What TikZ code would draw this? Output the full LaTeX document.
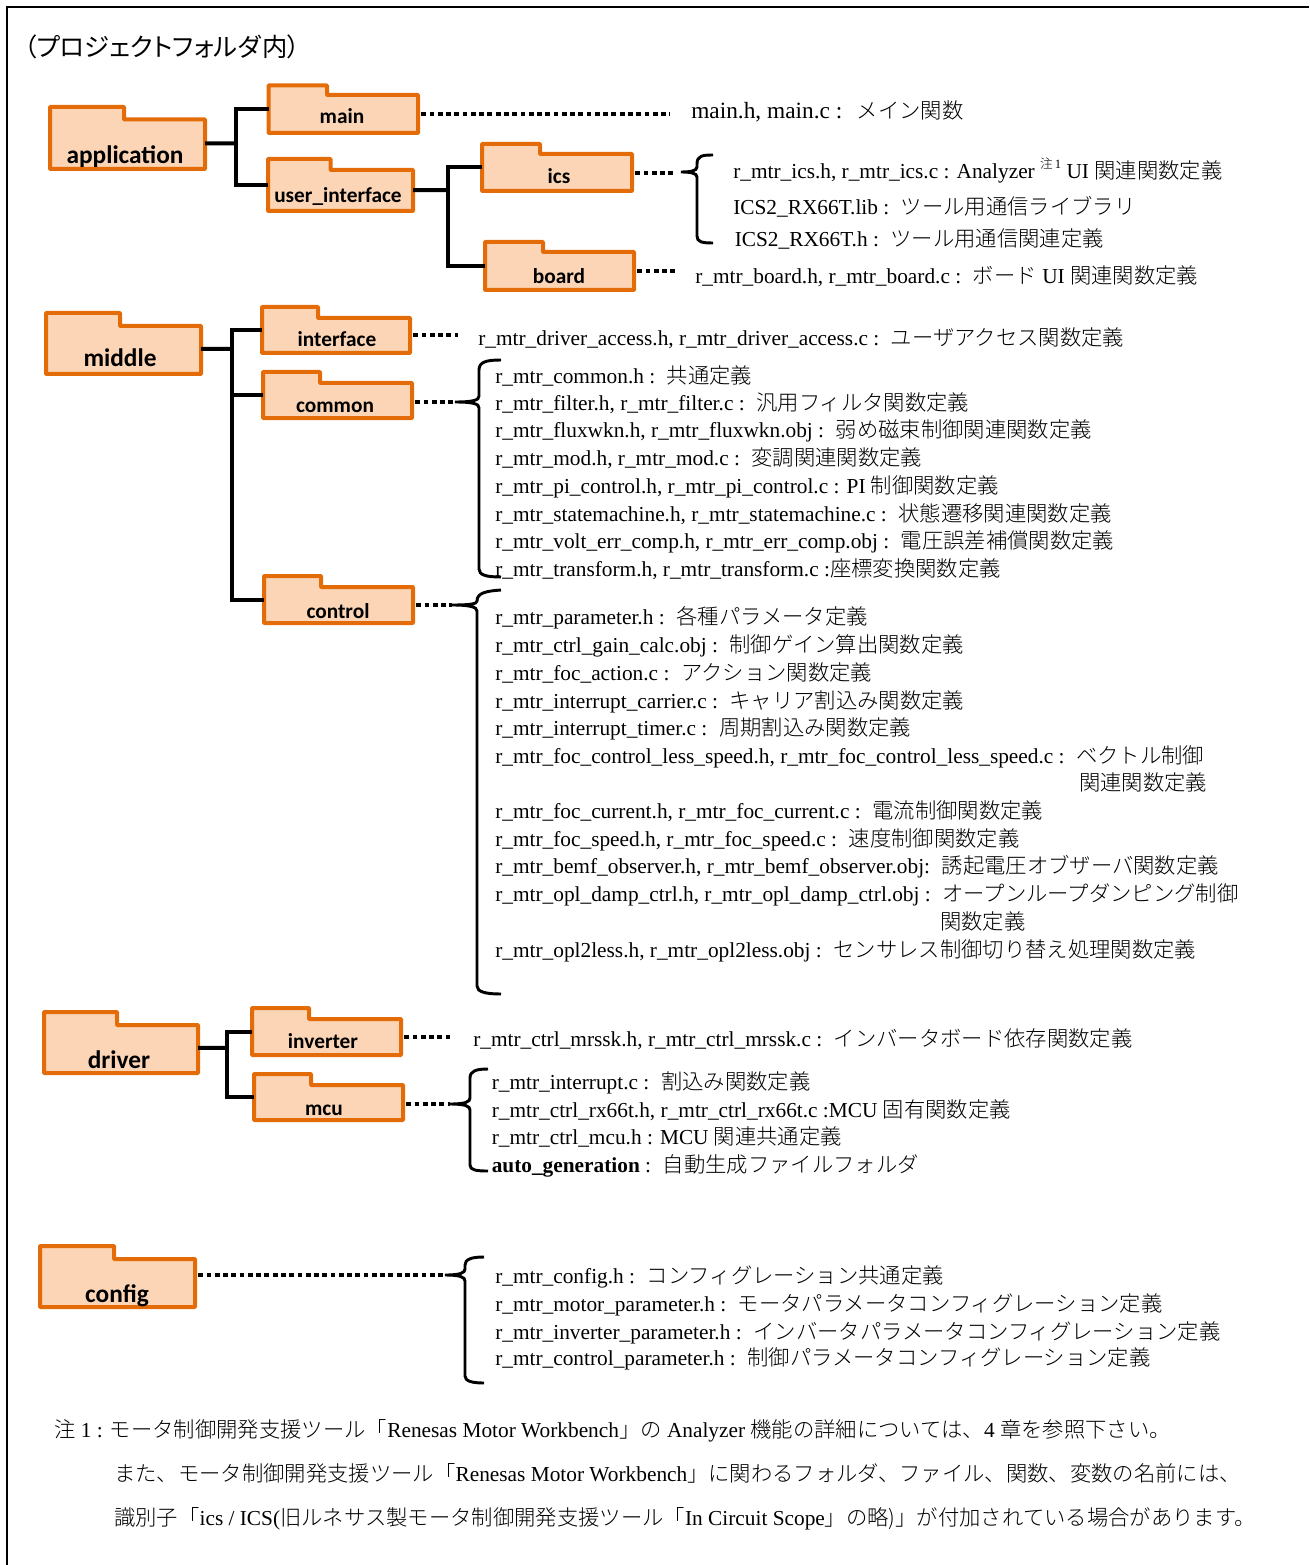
\documentclass[tikz,border=0pt]{standalone}
\usepackage{fontspec}
\setmainfont{Liberation Serif}
\newfontfamily\cjk{Noto Sans CJK JP Light}
\newfontfamily\cjktitle[RawFeature=+palt]{Noto Sans CJK JP}
\newfontfamily\foldersans{Carlito}
\newcommand{\jp}[1]{{\cjk #1}}
\newcommand{\colongap}{\hspace{3.4pt}}
\usetikzlibrary{fit}
\definecolor{folderline}{HTML}{E36C09}
\definecolor{folderfill}{HTML}{FBD5B5}
\tikzset{
	foldershape/.style={draw=folderline,fill=folderfill,line width=3pt,rounded corners=0.5pt},
	folderbody/.style={inner sep=0pt,outer sep=0pt},
	folderlabel/.style={anchor=base,inner sep=0pt,font=\foldersans\bfseries\fontsize{19}{21}\selectfont},
	smallfolderlabel/.style={anchor=base,inner sep=0pt,font=\foldersans\bfseries\fontsize{16}{18}\selectfont},
	tree/.style={line width=3pt},
	dotline/.style={line width=3pt,dash pattern=on 3.6pt off 2.6pt,shorten <=2.5pt},
	bracket/.style={line width=2.2pt},
	filetext/.style={anchor=base west,inner sep=0pt,font=\fontsize{16}{18}\selectfont}
}

\begin{document}
\begin{tikzpicture}[x=0.75pt,y=-0.75pt]
	\useasboundingbox (0,0) rectangle (1309,1565);
	\draw [line width=2pt] (1309,7)--(7,7)--(7,1565);
	\node [anchor=base west,inner sep=0pt,font=\cjktitle\fontsize{19}{21}\selectfont] (title) at (24,57) {（プロジェクトフォルダ\hspace{1.5pt}内）};

	\draw [foldershape] (50,107)--(124,107)--(124,119.5)--(205,119.5)--(205,169)--(50,169)--cycle;
	\node [folderbody,fit={(50,107)(205,169)}] (application) {};
	\node [folderlabel] (applicationlabel) at (125,164) {application};
	\draw [foldershape] (268.5,85.5)--(327,85.5)--(327,95)--(418,95)--(418,133)--(268.5,133)--cycle;
	\node [folderbody,fit={(268.5,85.5)(418,133)}] (main) {};
	\node [smallfolderlabel] (mainlabel) at (342,124) {main};
	\draw [foldershape] (268,159)--(330.5,159)--(330.5,170)--(413,170)--(413,211)--(268,211)--cycle;
	\node [folderbody,fit={(268,159)(413,211)}] (userinterface) {};
	\node [smallfolderlabel] (userinterfacelabel) at (338,203) {user\_interface};
	\draw [foldershape] (482,144)--(540,144)--(540,154)--(632,154)--(632,191)--(482,191)--cycle;
	\node [folderbody,fit={(482,144)(632,191)}] (ics) {};
	\node [smallfolderlabel] (icslabel) at (559,184) {ics};
	\draw [foldershape] (485,242)--(543,242)--(543,252)--(634,252)--(634,290)--(485,290)--cycle;
	\node [folderbody,fit={(485,242)(634,290)}] (board) {};
	\node [smallfolderlabel] (boardlabel) at (559,284) {board};
	\draw [foldershape] (46,313)--(120,313)--(120,326)--(201,326)--(201,374)--(46,374)--cycle;
	\node [folderbody,fit={(46,313)(201,374)}] (middle) {};
	\node [folderlabel] (middlelabel) at (120,367) {middle};
	\draw [foldershape] (262,307)--(318,307)--(318,318)--(410,318)--(410,353)--(262,353)--cycle;
	\node [folderbody,fit={(262,307)(410,353)}] (interface) {};
	\node [smallfolderlabel] (interfacelabel) at (337,347) {interface};
	\draw [foldershape] (263,372)--(320,372)--(320,383)--(412,383)--(412,418)--(263,418)--cycle;
	\node [folderbody,fit={(263,372)(412,418)}] (common) {};
	\node [smallfolderlabel] (commonlabel) at (335,412) {common};
	\draw [foldershape] (264,576)--(321,576)--(321,587)--(413,587)--(413,623)--(264,623)--cycle;
	\node [folderbody,fit={(264,576)(413,623)}] (control) {};
	\node [smallfolderlabel] (controllabel) at (338,618) {control};
	\draw [foldershape] (44,1012)--(117,1012)--(117,1025)--(198,1025)--(198,1073)--(44,1073)--cycle;
	\node [folderbody,fit={(44,1012)(198,1073)}] (driver) {};
	\node [folderlabel] (driverlabel) at (119,1068) {driver};
	\draw [foldershape] (252,1008)--(309,1008)--(309,1019)--(401,1019)--(401,1055)--(252,1055)--cycle;
	\node [folderbody,fit={(252,1008)(401,1055)}] (inverter) {};
	\node [smallfolderlabel] (inverterlabel) at (323,1048) {inverter};
	\draw [foldershape] (254,1074)--(311,1074)--(311,1085)--(403,1085)--(403,1120)--(254,1120)--cycle;
	\node [folderbody,fit={(254,1074)(403,1120)}] (mcu) {};
	\node [smallfolderlabel] (mculabel) at (324,1115) {mcu};
	\draw [foldershape] (40,1246)--(114,1246)--(114,1259)--(195,1259)--(195,1307)--(40,1307)--cycle;
	\node [folderbody,fit={(40,1246)(195,1307)}] (config) {};
	\node [folderlabel] (configlabel) at (117,1302) {config};

	\coordinate (applicationbus) at (236,143.4);
	\draw [tree] (application.-4)--(applicationbus);
	\draw [tree] (main.west)-|(applicationbus);
	\draw [tree] (userinterface.west)-|(applicationbus);
	\coordinate (userinterfacebus) at (448,190.1);
	\draw [tree] (userinterface.-4)--(userinterfacebus);
	\draw [tree] (ics.west)-|(userinterfacebus);
	\draw [tree] (board.west)-|(userinterfacebus);
	\coordinate (middlebus) at (232,348.9);
	\draw [tree] (middle.-4)--(middlebus);
	\draw [tree] (interface.west)-|(middlebus);
	\draw [tree] (common.west)-|(middlebus);
	\draw [tree] (control.west)-|(middlebus);
	\coordinate (driverbus) at (227,1047.9);
	\draw [tree] (driver.-4)--(driverbus);
	\draw [tree] (inverter.west)-|(driverbus);
	\draw [tree] (mcu.west)-|(driverbus);

	\coordinate (mainend) at (670,114.5);
	\coordinate (icstip) at (676,172);
	\coordinate (boardend) at (678,271);
	\coordinate (interfaceend) at (458,336);
	\coordinate (commontip) at (455,402);
	\coordinate (controltip) at (452,605);
	\coordinate (inverterend) at (451,1037);
	\coordinate (mcutip) at (450,1104);
	\coordinate (configtip) at (445,1275);
	\draw [dotline] (main.-4)--(main.-4 -| mainend);
	\draw [dotline] (ics.-4)--(ics.-4 -| icstip);
	\draw [dotline] (board.-4)--(board.-4 -| boardend);
	\draw [dotline] (interface.-4)--(interface.-4 -| interfaceend);
	\draw [dotline] (common.-5.5)--(common.-5.5 -| commontip);
	\draw [dotline] (control.-4)--(control.-4 -| controltip);
	\draw [dotline] (inverter.-4)--(inverter.-4 -| inverterend);
	\draw [dotline] (mcu.-5.5)--(mcu.-5.5 -| mcutip);
	\draw [dotline] (config.1)--(config.1 -| configtip);

	\draw [bracket] (713,155) .. controls (702,155) and (697,156) .. (697,164)--(697,167) .. controls (697,171) and (690,172) .. (681,172) .. controls (690,172) and (697,173) .. (697,177)--(697,236) .. controls (697,242) and (702,243) .. (713,243);
	\draw [bracket] (501,360) .. controls (486,360) and (479,362) .. (479,370)--(479,396) .. controls (479,400) and (474,402) .. (455,402) .. controls (474,402) and (479,404) .. (479,408)--(479,569) .. controls (479,575) and (486,577) .. (501,577);
	\draw [bracket] (501,590) .. controls (486,591) and (477,593) .. (477,601)--(477,601) .. controls (477,604) and (470,605) .. (452,605) .. controls (470,605) and (477,607) .. (477,611)--(477,986) .. controls (477,992) and (486,994) .. (501,994);
	\draw [bracket] (488,1069) .. controls (476,1069) and (470,1071) .. (470,1078)--(470,1098) .. controls (470,1102) and (465,1104) .. (450,1104) .. controls (465,1104) and (470,1106) .. (470,1110)--(470,1165) .. controls (470,1170) and (476,1171) .. (488,1171);
	\draw [bracket] (484,1257) .. controls (472,1257) and (465,1259) .. (465,1265)--(465,1269) .. controls (465,1273) and (460,1275) .. (445,1275) .. controls (460,1275) and (465,1277) .. (465,1281)--(465,1376) .. controls (465,1381) and (472,1383) .. (484,1383);

	\node [filetext,font=\fontsize{17.5}{20}\selectfont] (mainfiles) at (691,119) {main.h, main.c : \hspace{5pt}{\fontsize{16}{18}\selectfont\jp{メイン関数}}};
	\node [filetext] (icsline1) at (733,179) {r\_mtr\_ics.h, r\_mtr\_ics.c : Analyzer \raisebox{1.1ex}{\fontsize{9.5}{10}\selectfont\jp{注}\,1} UI \jp{関連関数定義}};
	\node [filetext] (icsline2) at (733,215) {ICS2\_RX66T.lib : \colongap\jp{ツール用通信ライブラリ}};
	\node [filetext] (icsline3) at (734.5,247) {ICS2\_RX66T.h : \colongap\jp{ツール用通信関連定義}};
	\node [filetext] (boardfiles) at (695,284) {r\_mtr\_board.h, r\_mtr\_board.c : \colongap\jp{ボード} UI \jp{関連関数定義}};
	\node [filetext] (interfacefiles) at (478,346) {r\_mtr\_driver\_access.h, r\_mtr\_driver\_access.c : \colongap\jp{ユーザアクセス関数定義}};
	\node [filetext] (commonline1) at (495,383) {r\_mtr\_common.h : \colongap\jp{共通定義}};
	\node [filetext] (commonline2) at (495,410) {r\_mtr\_filter.h, r\_mtr\_filter.c : \colongap\jp{汎用フィルタ関数定義}};
	\node [filetext] (commonline3) at (495,437) {r\_mtr\_fluxwkn.h, r\_mtr\_fluxwkn.obj : \colongap\jp{弱め磁束制御関連関数定義}};
	\node [filetext] (commonline4) at (495,465) {r\_mtr\_mod.h, r\_mtr\_mod.c : \colongap\jp{変調関連関数定義}};
	\node [filetext] (commonline5) at (495,493) {r\_mtr\_pi\_control.h, r\_mtr\_pi\_control.c : PI \jp{制御関数定義}};
	\node [filetext] (commonline6) at (495,521) {r\_mtr\_statemachine.h, r\_mtr\_statemachine.c : \colongap\jp{状態遷移関連関数定義}};
	\node [filetext] (commonline7) at (495,548) {r\_mtr\_volt\_err\_comp.h, r\_mtr\_err\_comp.obj : \colongap\jp{電圧誤差補償関数定義}};
	\node [filetext] (commonline8) at (495,576) {r\_mtr\_transform.h, r\_mtr\_transform.c :\jp{座標変換関数定義}};
	\node [filetext] (controlline1) at (495,624) {r\_mtr\_parameter.h : \colongap\jp{各種パラメータ定義}};
	\node [filetext] (controlline2) at (495,652) {r\_mtr\_ctrl\_gain\_calc.obj : \colongap\jp{制御ゲイン算出関数定義}};
	\node [filetext] (controlline3) at (495,680) {r\_mtr\_foc\_action.c : \colongap\jp{アクション関数定義}};
	\node [filetext] (controlline4) at (495,708) {r\_mtr\_interrupt\_carrier.c : \colongap\jp{キャリア割込み関数定義}};
	\node [filetext] (controlline5) at (495,735) {r\_mtr\_interrupt\_timer.c : \colongap\jp{周期割込み関数定義}};
	\node [filetext] (controlline6) at (495,763) {r\_mtr\_foc\_control\_less\_speed.h, r\_mtr\_foc\_control\_less\_speed.c : \colongap\jp{ベクトル制御}};
	\node [filetext] (controlline6b) at (1079,790) {\jp{関連関数定義}};
	\node [filetext] (controlline7) at (495,818) {r\_mtr\_foc\_current.h, r\_mtr\_foc\_current.c : \colongap\jp{電流制御関数定義}};
	\node [filetext] (controlline8) at (495,846) {r\_mtr\_foc\_speed.h, r\_mtr\_foc\_speed.c : \colongap\jp{速度制御関数定義}};
	\node [filetext] (controlline9) at (495,873) {r\_mtr\_bemf\_observer.h, r\_mtr\_bemf\_observer.obj: \colongap\jp{誘起電圧オブザーバ関数定義}};
	\node [filetext] (controlline10) at (495,901) {r\_mtr\_opl\_damp\_ctrl.h, r\_mtr\_opl\_damp\_ctrl.obj : \colongap\jp{オープンループダンピング制御}};
	\node [filetext] (controlline10b) at (940,929) {\jp{関数定義}};
	\node [filetext] (controlline11) at (495,957) {r\_mtr\_opl2less.h, r\_mtr\_opl2less.obj : \colongap\jp{センサレス制御切り替え処理関数定義}};
	\node [filetext] (inverterfiles) at (473,1046) {r\_mtr\_ctrl\_mrssk.h, r\_mtr\_ctrl\_mrssk.c : \colongap\jp{インバータボード依存関数定義}};
	\node [filetext] (mculine1) at (491.5,1089) {r\_mtr\_interrupt.c : \colongap\jp{割込み関数定義}};
	\node [filetext] (mculine2) at (491.5,1117) {r\_mtr\_ctrl\_rx66t.h, r\_mtr\_ctrl\_rx66t.c :MCU \jp{固有関数定義}};
	\node [filetext] (mculine3) at (491.5,1144) {r\_mtr\_ctrl\_mcu.h : MCU \jp{関連共通定義}};
	\node [filetext] (mculine4) at (491.5,1172) {\textbf{auto\_generation} : \colongap\jp{自動生成ファイルフォルダ}};
	\node [filetext] (configline1) at (495,1283) {r\_mtr\_config.h : \colongap\jp{コンフィグレーション共通定義}};
	\node [filetext] (configline2) at (495,1311) {r\_mtr\_motor\_parameter.h : \colongap\jp{モータパラメータコンフィグレーション定義}};
	\node [filetext] (configline3) at (495,1339) {r\_mtr\_inverter\_parameter.h : \colongap\jp{インバータパラメータコンフィグレーション定義}};
	\node [filetext] (configline4) at (495,1365) {r\_mtr\_control\_parameter.h : \colongap\jp{制御パラメータコンフィグレーション定義}};

	\node [filetext] (noteline1) at (54,1437) {\jp{注} 1 : \jp{モータ制御開発支援ツール「}Renesas Motor Workbench\jp{」の} Analyzer \jp{機能の詳細については、}4 \jp{章を参照下さい。}};
	\node [filetext] (noteline2) at (114,1481) {\jp{また、モータ制御開発支援ツール「}Renesas Motor Workbench\jp{」に関わるフォルダ、ファイル、関数、変数の名前には、}};
	\node [filetext] (noteline3) at (114,1525) {\jp{識別子「}ics / ICS(\jp{旧ルネサス製モータ制御開発支援ツール「}In Circuit Scope\jp{」の略)」が付加されている場合があります。}};
\end{tikzpicture}
\end{document}
